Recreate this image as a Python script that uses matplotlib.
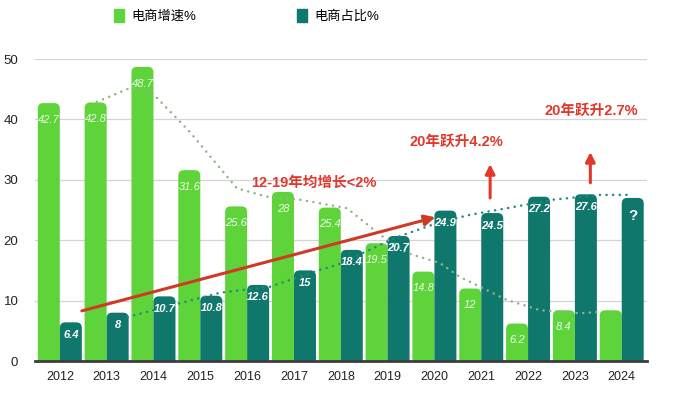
import matplotlib
matplotlib.use('Agg')
import matplotlib.pyplot as plt
from matplotlib.patches import FancyBboxPatch, Patch

plt.rcParams['font.family'] = ['Liberation Sans', 'Noto Sans CJK SC', 'DejaVu Sans']

years = ['2012', '2013', '2014', '2015', '2016', '2017', '2018',
         '2019', '2020', '2021', '2022', '2023', '2024']
growth = [42.7, 42.8, 48.7, 31.6, 25.6, 28, 25.4, 19.5, 14.8, 12, 6.2, 8.4, 8.4]
growth_labels = ['42.7', '42.8', '48.7', '31.6', '25.6', '28', '25.4',
                 '19.5', '14.8', '12', '6.2', '8.4', '']
share = [6.4, 8, 10.7, 10.8, 12.6, 15, 18.4, 20.7, 24.9, 24.5, 27.2, 27.6, 27.0]
share_labels = ['6.4', '8', '10.7', '10.8', '12.6', '15', '18.4',
                '20.7', '24.9', '24.5', '27.2', '27.6', '?']

# dotted trend curves (x in year index)
growth_trend_x = [0.79, 1.56, 1.97, 2.78, 3.78, 4.42, 5.13, 6.13, 6.84, 7.41,
                  8.12, 8.55, 9.55, 10.26, 11.11, 11.47]
growth_trend_y = [42.9, 45.4, 44.4, 37.9, 28.6, 27.2, 26.7, 25.3, 20.9, 17.9,
                  16.2, 13.9, 10.1, 8.4, 7.9, 8.1]
share_trend_x = [1.45, 3.42, 4.49, 5.56, 5.92, 7.2, 8.12, 8.76, 9.55, 10.53, 11.54, 12.18]
share_trend_y = [7.3, 11.3, 12.3, 15.1, 15.9, 20.5, 23.0, 24.2, 25.3, 26.7, 27.5, 27.5]

GREEN = '#5ed43a'
TEAL = '#0f776b'
RED = '#e0382b'

fig = plt.figure(figsize=(6.8, 3.95), dpi=100)
ax = fig.add_axes([35 / 680, 1 - 361 / 395, 612 / 680, 302 / 395])
ax.set_xlim(-0.53, 12.54)
ax.set_ylim(0, 50)

x = range(len(years))
w = 0.47
g_bars = ax.bar([i - w / 2 for i in x], growth, width=w, color=GREEN, zorder=2)
s_bars = ax.bar([i + w / 2 for i in x], share, width=w, color=TEAL, zorder=2)

# swap the plain rectangles for ones with rounded tops
bb = ax.get_position()
px_x = bb.width * 680 / (12.54 + 0.53)
px_y = bb.height * 395 / 50
r = 5.5 / px_x
for bars in (g_bars, s_bars):
    for p in bars:
        fb = FancyBboxPatch((p.get_x(), -3), p.get_width(), p.get_height() + 3,
                            boxstyle='round,pad=0,rounding_size=%f' % r,
                            mutation_aspect=px_x / px_y,
                            fc=p.get_facecolor(), ec='none', zorder=2)
        ax.add_patch(fb)
        p.set_visible(False)

for i in x:
    if growth_labels[i]:
        ax.annotate(growth_labels[i], (i - w / 2, growth[i]), xytext=(0, -12),
                    textcoords='offset points', ha='center', va='center',
                    fontsize=8, style='italic', color='#eefbe8', zorder=4)
    if share_labels[i] == '?':
        ax.annotate('?', (i + w / 2, share[i]), xytext=(0, -13),
                    textcoords='offset points', ha='center', va='center',
                    fontsize=11, weight='bold', color='white', zorder=4)
    else:
        ax.annotate(share_labels[i], (i + w / 2, share[i]), xytext=(0, -9),
                    textcoords='offset points', ha='center', va='center',
                    fontsize=8, style='italic', weight='bold', color='white', zorder=4)

ax.plot(growth_trend_x, growth_trend_y, color='#8fb486', lw=1.8,
        ls=(0, (0.05, 2.6)), dash_capstyle='round', zorder=3)
ax.plot(share_trend_x, share_trend_y, color='#23897a', lw=1.8,
        ls=(0, (0.05, 2.6)), dash_capstyle='round', zorder=3)

# red arrow and notes
ax.annotate('', xy=(8.02, 23.8), xytext=(0.47, 8.3),
            arrowprops=dict(arrowstyle='-|>', color='#cf3a26', lw=2.2,
                            mutation_scale=16, shrinkA=0, shrinkB=0), zorder=5)
ax.annotate('', xy=(9.19, 32.6), xytext=(9.19, 27.0),
            arrowprops=dict(arrowstyle='-|>', color=RED, lw=2.2,
                            mutation_scale=14, shrinkA=0, shrinkB=0), zorder=5)
ax.annotate('', xy=(11.33, 34.6), xytext=(11.33, 29.5),
            arrowprops=dict(arrowstyle='-|>', color=RED, lw=2.2,
                            mutation_scale=14, shrinkA=0, shrinkB=0), zorder=5)
ax.text(5.43, 29.5, '12-19年均增长<2%', color=RED, fontsize=10.5, weight='bold',
        ha='center', va='center', zorder=5)
ax.text(8.46, 36.3, '20年跃升4.2%', color=RED, fontsize=10.5, weight='bold',
        ha='center', va='center', zorder=5)
ax.text(11.35, 41.4, '20年跃升2.7%', color=RED, fontsize=10.5, weight='bold',
        ha='center', va='center', zorder=5)

ax.set_yticks([0, 10, 20, 30, 40, 50])
ax.set_xticks(list(x))
ax.set_xticklabels(years)
ax.tick_params(axis='y', length=0, pad=12, labelsize=9.5, labelcolor='#222222')
ax.tick_params(axis='x', length=0, pad=7, labelsize=9, labelcolor='#222222')
ax.grid(axis='y', color='#d4d4d4', lw=0.9, zorder=0)
ax.set_axisbelow(True)
for s in ('top', 'right', 'left'):
    ax.spines[s].set_visible(False)
ax.spines['bottom'].set_color('#3d3d3d')
ax.spines['bottom'].set_linewidth(2)
ax.spines['bottom'].set_zorder(6)

handles = [Patch(color=GREEN), Patch(color=TEAL)]
fig.legend(handles, ['电商增速%', '电商占比%'], loc='center', ncol=2,
           bbox_to_anchor=(0.363, 0.959), frameon=False, fontsize=9.5,
           handlelength=0.75, handleheight=1.1, handletextpad=0.6,
           columnspacing=7.6)

fig.savefig('out.png', dpi=100)
